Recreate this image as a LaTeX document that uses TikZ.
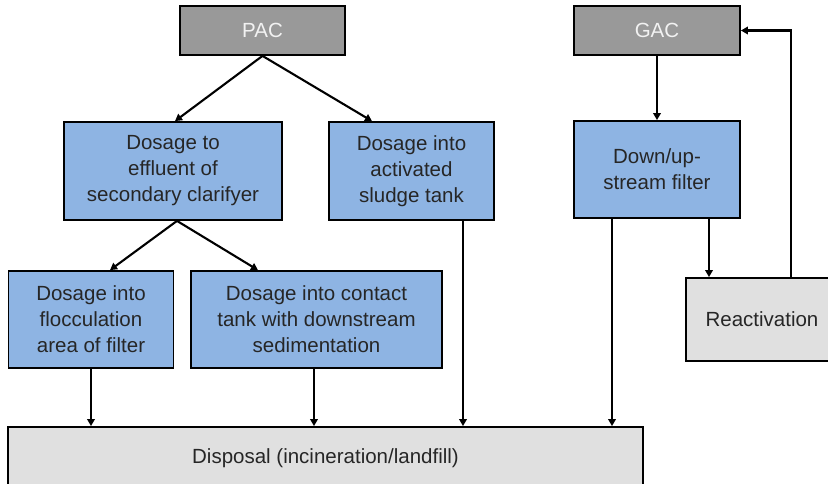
\documentclass[tikz,border=0pt]{standalone}
\usepackage{fontspec}
\setmainfont{Liberation Sans}
\usetikzlibrary{arrows.meta,calc}

\definecolor{boxblue}{HTML}{8EB4E3}
\definecolor{sourcegray}{HTML}{999999}
\definecolor{sinkgray}{HTML}{E0E0E0}
\definecolor{labelgray}{HTML}{F2F2F2}

\tikzset{
  basebox/.style={draw=black, line width=1.8bp, align=center, inner sep=0pt,
    font=\fontsize{20.5bp}{26bp}\selectfont},
  sourcebox/.style={basebox, fill=sourcegray, text=labelgray},
  stagebox/.style={basebox, fill=boxblue, text=black!85},
  sinkbox/.style={basebox, fill=sinkgray, text=black!85},
  flow/.style={line width=2.1bp, -{Triangle[length=7bp,width=7.5bp]}},
}

\begin{document}
\begin{tikzpicture}[x=1bp,y=-1bp]
  \useasboundingbox (0,0) rectangle (828,484);
  \clip (0,0) rectangle (828,484);

  % sources
  \node[sourcebox, minimum width=165bp, minimum height=49bp] (pac) at (262.5,30.5) {PAC};
  \node[sourcebox, minimum width=166bp, minimum height=49bp] (gac) at (657,30.5) {GAC};

  % PAC dosage points
  \node[stagebox, minimum width=218bp, minimum height=98bp] (eff) at (173,171)
    {Dosage to\\effluent of\\secondary clarifyer};
  \node[stagebox, minimum width=165bp, minimum height=98bp] (act) at (411.5,171)
    {Dosage into\\activated\\sludge tank};
  \node[stagebox, minimum width=165bp, minimum height=97bp] (floc) at (91,319.5)
    {Dosage into\\flocculation\\area of filter};
  \node[stagebox, minimum width=251bp, minimum height=97bp] (cont) at (316.5,319.5)
    {Dosage into contact\\tank with downstream\\sedimentation};

  % GAC stages
  \node[stagebox, minimum width=166bp, minimum height=97bp] (filt) at (657,169.5)
    {Down/up-\\stream filter};
  \node[sinkbox, minimum width=152bp, minimum height=83bp] (reac) at (762,319.5)
    {Reactivation};

  % final sink
  \node[sinkbox, minimum width=635bp, minimum height=62bp] (disp) at (325.5,458)
    {Disposal (incineration/landfill)};

  % PAC branches
  \draw[flow] (pac.south) -- ([xshift=2bp]eff.north);
  \draw[flow] (pac.south) -- ([xshift=-39.5bp]act.north);
  \draw[flow] ([xshift=4bp]eff.south) -- ([xshift=19bp]floc.north);
  \draw[flow] ([xshift=4bp]eff.south) -- ([xshift=-58.5bp]cont.north);

  % routes to disposal
  \draw[flow] (floc.south) -- (floc.south |- disp.north);
  \draw[flow] ([xshift=-2.5bp]cont.south) coordinate (c1) -- (c1 |- disp.north);
  \draw[flow] ([xshift=51.5bp]act.south) coordinate (a1) -- (a1 |- disp.north);
  \draw[flow] ([xshift=-45bp]filt.south) coordinate (f1) -- (f1 |- disp.north);

  % GAC loop
  \draw[flow] (gac.south) -- (filt.north);
  \draw[flow] ([xshift=52bp]filt.south) coordinate (f2) -- (f2 |- reac.north);
  \draw[flow] ([xshift=29bp]reac.north) |- (gac.east);
\end{tikzpicture}
\end{document}
